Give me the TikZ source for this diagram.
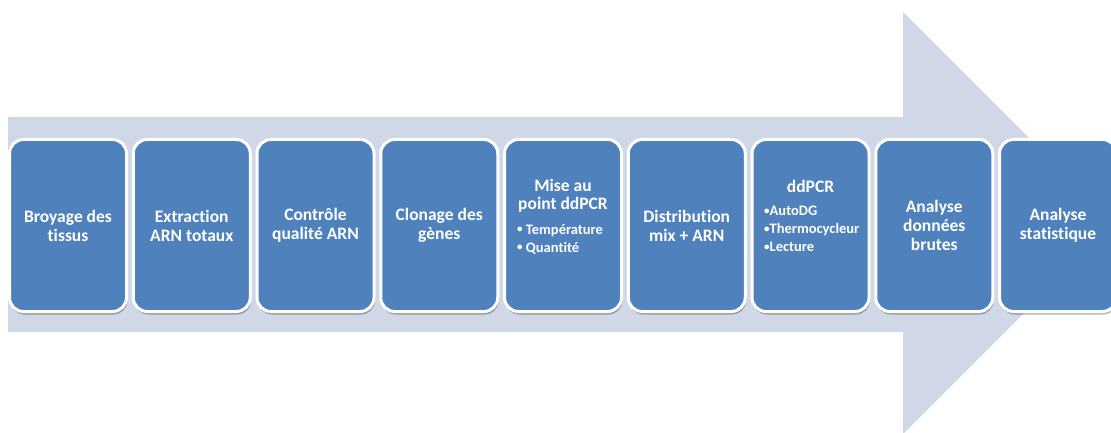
\documentclass[tikz,border=0pt]{standalone}
\usepackage{fontspec}
\setmainfont{Carlito}[RawFeature={-liga}]
\definecolor{boxblue}{HTML}{4F81BD}
\definecolor{arrowbg}{HTML}{D0D8E8}
\newcommand{\mybul}{{\fontsize{11}{11}\selectfont\raisebox{1.2pt}{•}}}
\tikzset{
  stepbox/.style={draw=white, line width=3pt, fill=boxblue, rounded corners=14pt,
    minimum width=117pt, minimum height=172pt, inner sep=0pt,
    preaction={fill=black, opacity=0.28, draw=none, transform canvas={xshift=1pt, yshift=-3pt}},
    text=white, font=\bfseries\fontsize{17.5}{19}\selectfont, align=center},
  steptitle/.style={text=white, font=\bfseries\fontsize{17.5}{18}\selectfont, align=center, inner sep=0pt},
  steplist/.style={text=white, font=\bfseries\fontsize{14.5}{18}\selectfont, align=left, inner sep=0pt, anchor=west}
}
\begin{document}
\begin{tikzpicture}[x=1pt,y=-1pt]
\useasboundingbox (0,0) rectangle (1111,433);
\begin{scope}
\clip (0,0) rectangle (1111,433);
\fill[arrowbg] (8,117) -- (903,117) -- (903,12) -- (1114,223) -- (903,434) -- (903,332) -- (8,332) -- cycle;
\node[stepbox] (s1) at (68,225.5) {Broyage des\\tissus};
\node[stepbox] (s2) at (191.75,225.5) {Extraction\\ARN totaux};
\node[stepbox] (s3) at (315.5,225.5) {Contrôle\\qualité ARN};
\node[stepbox] (s4) at (439.25,225.5) {Clonage des\\gènes};
\node[stepbox] (s5) at (563,225.5) {};
\node[stepbox] (s6) at (686.75,225.5) {Distribution\\mix + ARN};
\node[stepbox] (s7) at (810.5,225.5) {};
\node[stepbox] (s8) at (934.25,225.5) {Analyse\\données\\brutes};
\node[stepbox] (s9) at (1058,225.5) {Analyse\\statistique};
\node[steptitle] (t5) at (563,196) {Mise au\\point ddPCR};
\node[steplist] (l5) at (517,239) {\mybul{} Température\\\mybul{} Quantité};
\node[steptitle] (t7) at (810.5,186) {ddPCR};
\node[steplist] (l7) at (764,229) {\mybul{}AutoDG\\\mybul{}Thermocycleur\\\mybul{}Lecture};
\end{scope}
\end{tikzpicture}
\end{document}
